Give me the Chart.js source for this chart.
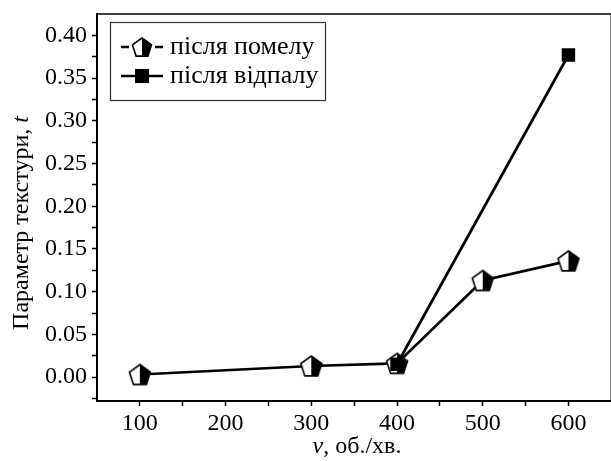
<!DOCTYPE html>
<html>
<head>
<meta charset="utf-8">
<script src="https://cdn.jsdelivr.net/npm/chart.js@4.4.1/dist/chart.umd.min.js"></script>
<style>
  html, body { margin: 0; padding: 0; background: #fff; overflow: hidden; }
  #wrap { width: 625px; height: 461px; }
</style>
</head>
<body>
<div id="wrap"><canvas id="myChart" width="625" height="461"></canvas></div>
<script>
// дані
const rpm = [100, 300, 400, 500, 600];
const afterMilling = [0.003, 0.013, 0.016, 0.113, 0.136];
const rpmAnnealed = [400, 600];
const afterAnnealing = [0.015, 0.377];

const xTickLabels = [100, 200, 300, 400, 500, 600];
const xMinorTicks = [150, 250, 350, 450, 550];
const yTickLabels = [0.00, 0.05, 0.10, 0.15, 0.20, 0.25, 0.30, 0.35, 0.40];
const yMinorTicks = [-0.025, 0.025, 0.075, 0.125, 0.175, 0.225, 0.275, 0.325, 0.375];

const seriesLabels = ['після помелу', 'після відпалу'];

const serif = "'Liberation Serif', 'Times New Roman', serif";

function pentagon(ctx, cx, cy, r) {
    ctx.beginPath();
    for (let i = 0; i < 5; i++) {
        const a = -Math.PI / 2 + i * 2 * Math.PI / 5;
        const px = cx + r * Math.cos(a), py = cy + r * Math.sin(a);
        if (i === 0) ctx.moveTo(px, py); else ctx.lineTo(px, py);
    }
    ctx.closePath();
}

function drawHalfPentagon(ctx, cx, cy, r) {
    pentagon(ctx, cx, cy, r);
    ctx.fillStyle = '#fff';
    ctx.fill();
    ctx.save();
    pentagon(ctx, cx, cy, r);
    ctx.clip();
    ctx.fillStyle = '#000';
    ctx.fillRect(cx, cy - r - 2, r + 2, 2 * r + 4);
    ctx.restore();
    pentagon(ctx, cx, cy, r);
    ctx.lineWidth = 1.6;
    ctx.strokeStyle = '#000';
    ctx.stroke();
}

function makePentagonImg() {
    const c = document.createElement('canvas');
    c.width = 26; c.height = 26;
    drawHalfPentagon(c.getContext('2d'), 13, 14, 11);
    return c;
}

function makeLegendImg(kind) {
    const c = document.createElement('canvas');
    c.width = 44; c.height = 26;
    const ctx = c.getContext('2d');
    ctx.strokeStyle = '#000';
    ctx.lineWidth = 2.5;
    ctx.beginPath();
    if (kind === 'pent') {
        ctx.moveTo(1, 13); ctx.lineTo(9, 13);
        ctx.moveTo(35, 13); ctx.lineTo(43, 13);
        ctx.stroke();
        drawHalfPentagon(ctx, 22, 14, 10);
    } else {
        ctx.moveTo(1, 13); ctx.lineTo(43, 13);
        ctx.stroke();
        ctx.fillStyle = '#000';
        ctx.fillRect(15, 6, 14, 14);
    }
    return c;
}

const pentImg = makePentagonImg();
const legendImgs = [makeLegendImg('pent'), makeLegendImg('sq')];

const frameAndLegend = {
    id: 'frameAndLegend',
    afterDraw(chart) {
        const { ctx, chartArea: a } = chart;
        ctx.save();
        // рамка
        ctx.strokeStyle = '#000';
        ctx.lineWidth = 1.5;
        ctx.beginPath();
        ctx.moveTo(a.left, a.top);
        ctx.lineTo(a.right, a.top);
        ctx.lineTo(a.right, a.bottom);
        ctx.stroke();

        // легенда
        const lx = a.left + 13, ly = a.top + 8, lw = 215, lh = 78;
        ctx.lineWidth = 1.2;
        ctx.strokeStyle = '#333';
        ctx.strokeRect(lx + 0.5, ly + 0.5, lw, lh);
        ctx.font = `26px ${serif}`;
        ctx.fillStyle = '#000';
        ctx.textBaseline = 'middle';
        chart.data.datasets.forEach((ds, i) => {
            const rowY = ly + 25 + i * 29;
            ctx.drawImage(legendImgs[i], lx + 10, rowY - 13);
            ctx.fillText(ds.label, lx + 60, rowY);
        });

        // підписи осей
        const fs = 24;
        const yTitleA = 'Параметр текстури, ';
        const yTitleB = 't';
        ctx.font = `${fs}px ${serif}`;
        const wA = ctx.measureText(yTitleA).width;
        ctx.font = `italic ${fs}px ${serif}`;
        const wB = ctx.measureText(yTitleB).width;
        ctx.save();
        ctx.translate(22, 223);
        ctx.rotate(-Math.PI / 2);
        ctx.textBaseline = 'middle';
        ctx.textAlign = 'left';
        const sy = -(wA + wB) / 2;
        ctx.font = `${fs}px ${serif}`;
        ctx.fillText(yTitleA, sy, 0);
        ctx.font = `italic ${fs}px ${serif}`;
        ctx.fillText(yTitleB, sy + wA, 0);
        ctx.restore();

        const xTitleA = 'ν';
        const xTitleB = ', об./хв.';
        ctx.font = `italic ${fs}px ${serif}`;
        const xa = ctx.measureText(xTitleA).width;
        ctx.font = `${fs}px ${serif}`;
        const xb = ctx.measureText(xTitleB).width;
        const sx = 357 - (xa + xb) / 2;
        ctx.textAlign = 'left';
        ctx.textBaseline = 'middle';
        ctx.font = `italic ${fs}px ${serif}`;
        ctx.fillText(xTitleA, sx, 447);
        ctx.font = `${fs}px ${serif}`;
        ctx.fillText(xTitleB, sx + xa, 447);
        ctx.restore();
    }
};

const config = {
    type: 'line',
    data: {
        datasets: [
            {
                label: seriesLabels[0],
                data: rpm.map((x, i) => ({ x, y: afterMilling[i] })),
                borderColor: '#000',
                borderWidth: 2.7,
                pointStyle: pentImg,
                pointRadius: 11,
                order: 1
            },
            {
                label: seriesLabels[1],
                data: rpmAnnealed.map((x, i) => ({ x, y: afterAnnealing[i] })),
                borderColor: '#000',
                backgroundColor: '#000',
                borderWidth: 2.7,
                pointStyle: 'rect',
                pointRadius: 9.5,
                pointBorderWidth: 0,
                order: 0
            }
        ]
    },
    options: {
        responsive: false,
        animation: false,
        layout: { padding: { top: 14, right: 12, left: 0, bottom: 0 } },
        plugins: {
            legend: { display: false },
            tooltip: { enabled: false }
        },
        scales: {
            x: {
                type: 'linear',
                min: 50,
                max: 650,
                afterBuildTicks: (s) => {
                    s.ticks = [...xTickLabels, ...xMinorTicks].sort((p, q) => p - q).map(v => ({ value: v }));
                },
                afterFit: (s) => {
                    s.height = 60;
                    s.paddingLeft = 0;
                    s.paddingRight = 0;
                },
                ticks: {
                    autoSkip: false,
                    maxRotation: 0,
                    color: '#000',
                    font: { family: serif, size: 24 },
                    padding: 3,
                    callback: (v) => xTickLabels.includes(v) ? String(v) : ''
                },
                grid: { drawOnChartArea: false, color: '#000', tickLength: 5, tickWidth: 1.5 },
                border: { color: '#000', width: 2 }
            },
            y: {
                type: 'linear',
                min: -0.028,
                max: 0.425,
                afterBuildTicks: (s) => {
                    s.ticks = [...yTickLabels, ...yMinorTicks].sort((p, q) => p - q).map(v => ({ value: v }));
                },
                afterFit: (s) => {
                    s.width = 97;
                    s.paddingTop = 0;
                    s.paddingBottom = 0;
                },
                ticks: {
                    autoSkip: false,
                    color: '#000',
                    font: { family: serif, size: 24 },
                    padding: 5,
                    callback: (v) => yTickLabels.includes(v) ? v.toFixed(2) : ''
                },
                grid: { drawOnChartArea: false, color: '#000', tickLength: 5, tickWidth: 1.5 },
                border: { color: '#000', width: 2 }
            }
        }
    },
    plugins: [frameAndLegend]
};

new Chart(document.getElementById('myChart').getContext('2d'), config);
</script>
</body>
</html>
